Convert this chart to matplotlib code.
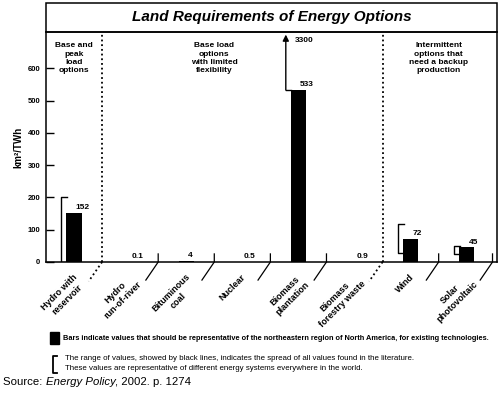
import matplotlib
matplotlib.use('Agg')
import matplotlib.pyplot as plt
from matplotlib.patches import Rectangle
from matplotlib.lines import Line2D

plt.rcParams['font.family'] = ['Liberation Sans', 'DejaVu Sans']

# Data
options = ['Hydro with\nreservoir', 'Hydro\nrun-of-river', 'Bituminous\ncoal', 'Nuclear',
           'Biomass\nplantation', 'Biomass\nforestry waste', 'Wind', 'Solar\nphotovoltaic']
values = [152, 0.1, 4, 0.5, 533, 0.9, 72, 45]
value_labels = ['152', '0.1', '4', '0.5', '533', '0.9', '72', '45']
range_low = [0, None, None, None, 533, None, 28, 25]
range_high = [200, None, None, None, 3300, None, 118, 50]
groups = ['Base and\npeak\nload\noptions',
          'Base load\noptions\nwith limited\nflexibility',
          'Intermittent\noptions that\nneed a backup\nproduction']
group_centers = [0.5, 3.0, 7.0]
group_breaks = [1, 6]
y_ticks = [0, 100, 200, 300, 400, 500, 600]

W, H = 500, 397
fig = plt.figure(figsize=(5.0, 3.97), dpi=100)
ax = fig.add_axes([46 / W, 1 - 262 / H, 451 / W, 230 / H])

ymax = 713
ax.set_xlim(0, 8.04)
ax.set_ylim(0, ymax)

bw = 0.27
centers = [i + 0.5 for i in range(len(options))]
ax.bar(centers, values, width=bw, color='black', zorder=3)

# value labels
for c, v, lab in zip(centers, values, value_labels):
    ax.text(c + 0.03, v + 5, lab, ha='left', va='bottom', fontsize=6, fontweight='bold')

# range brackets
for c, lo, hi in zip(centers, range_low, range_high):
    if lo is None:
        continue
    xb = c - bw / 2 - 0.09
    if hi > ymax:
        ax.plot([xb, c - bw / 2], [lo, lo], color='black', lw=1)
        ax.annotate('', xy=(xb, 705), xytext=(xb, lo),
                    arrowprops=dict(arrowstyle='-|>', color='black', lw=1, mutation_scale=9,
                                    shrinkA=0, shrinkB=0))
        ax.text(xb + 0.17, 698, str(hi), ha='left', va='top', fontsize=6, fontweight='bold')
    else:
        ax.plot([xb + 0.1, xb, xb, xb + 0.1], [lo, lo, hi, hi], color='black', lw=1)

# slot separators (slanted ticks under the axis)
for i in range(1, 9):
    x = min(i, 7.96)
    if i in group_breaks:
        ax.plot([x, x], [0, ymax], color='black', lw=1.3, ls=(0, (1, 1.6)), clip_on=False)
        ax.plot([x, x - 0.24], [0, -60], color='black', lw=1.3, ls=(0, (1, 1.6)), clip_on=False)
    else:
        ax.plot([x, x, x - 0.22], [25, 0, -56], color='black', lw=0.9, clip_on=False)

# category labels
for c, lab in zip(centers, options):
    ax.text(c - 0.02, -0.045, lab, transform=ax.get_xaxis_transform(), rotation=45,
            rotation_mode='anchor', ha='right', va='top', multialignment='center',
            fontsize=6.5, fontweight='bold')

# group headings
for gx, g in zip(group_centers, groups):
    ax.text(gx, 0.955, g, transform=ax.get_xaxis_transform(), ha='center', va='top',
            fontsize=6, fontweight='bold', linespacing=1.25)

ax.set_xticks([])
ax.set_yticks(y_ticks)
ax.set_yticklabels([str(t) for t in y_ticks], fontsize=5.5, fontweight='bold')
ax.tick_params(axis='y', direction='in', length=6, width=1, pad=4)
ax.set_ylabel('km²/TWh', fontsize=7, fontweight='bold', labelpad=3)
for s in ax.spines.values():
    s.set_linewidth(1.1)

# title box
fig.patches.append(Rectangle((46 / W, 1 - 32 / H), 451 / W, 29 / H, transform=fig.transFigure,
                             fill=False, lw=1.1, edgecolor='black'))
fig.text(272 / W, 1 - 17.5 / H, 'Land Requirements of Energy Options', ha='center', va='center',
         fontsize=11, fontweight='bold', style='italic')

# legend notes
fig.patches.append(Rectangle((50 / W, 1 - 344 / H), 9 / W, 12 / H, transform=fig.transFigure,
                             facecolor='black', edgecolor='black'))
fig.text(63 / W, 1 - 339 / H,
         'Bars indicate values that should be representative of the northeastern region of North America, for existing technologies.',
         ha='left', va='center', fontsize=5.3, fontweight='bold')
bx = [57 / W, 53 / W, 53 / W, 57 / W]
by = [1 - 356 / H, 1 - 356 / H, 1 - 373 / H, 1 - 373 / H]
fig.add_artist(Line2D(bx, by, transform=fig.transFigure, color='black', lw=1.3))
fig.text(65 / W, 1 - 359 / H,
         'The range of values, showed by black lines, indicates the spread of all values found in the literature.',
         ha='left', va='center', fontsize=5.7)
fig.text(65 / W, 1 - 368 / H,
         'These values are representative of different energy systems everywhere in the world.',
         ha='left', va='center', fontsize=5.7)

# source line with italic journal name
renderer = fig.canvas.get_renderer()
x0 = 3 / W
ys = 1 - 382 / H
for part, st in [('Source: ', 'normal'), ('Energy Policy', 'italic'), (', 2002. p. 1274', 'normal')]:
    t = fig.text(x0, ys, part, ha='left', va='center', fontsize=8.2, style=st)
    bb = t.get_window_extent(renderer=renderer)
    x0 += bb.width / (W)

fig.savefig('out.png', dpi=100)
